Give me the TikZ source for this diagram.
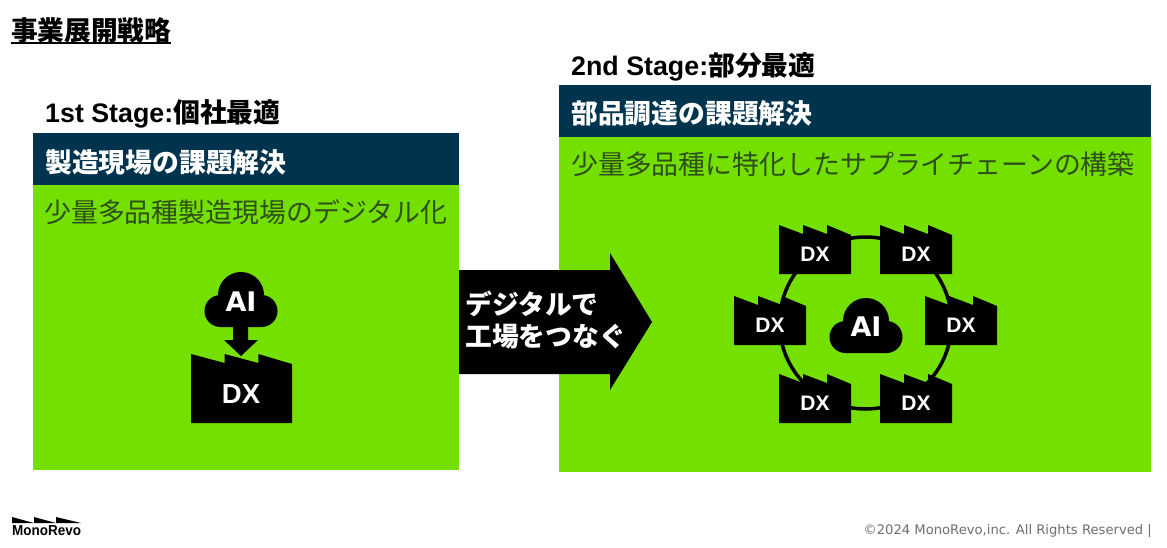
\documentclass[tikz,border=0pt]{standalone}
\usepackage{fontspec}
\setmainfont{Liberation Sans}
\newfontfamily\cjk{Noto Sans CJK JP}
\newfontfamily\footfont{DejaVu Sans}

\definecolor{leaf}{HTML}{74E000}
\definecolor{navy}{HTML}{00344E}
\definecolor{subtext}{HTML}{2F4F1A}
\definecolor{foot}{HTML}{6E6E6E}

\newcommand{\fs}[1]{\fontsize{#1}{#1}\selectfont}

\tikzset{
  stagetext/.style={anchor=west, inner sep=0pt, font=\fs{26.8}\bfseries\cjk},
  headtext/.style={anchor=west, inner sep=0pt, text=white, font=\fs{26.8}\bfseries\cjk},
  subtitle/.style={anchor=west, inner sep=0pt, text=subtext, font=\fs{26.9}\cjk},
  aitext/.style={inner sep=0pt, text=white, font=\fs{27}\bfseries\footfont},
  marktext/.style={inner sep=0pt, text=white, font=\fs{27.5}\bfseries},
  smalltext/.style={inner sep=0pt, text=white, font=\fs{21}\bfseries}
}

% factory: left, peak y, width, height, tooth drop
\newcommand{\factory}[5]{
\fill (#1, #2) -- ++(#3/3, #5*0.9) -- ++(0, -#5*0.9)
  -- ++(#3/3, #5*0.9) -- ++(0, -#5*0.9)
  -- ++(#3/3, #5) -- ++(0, #4-#5) -- ++(-#3, 0) -- cycle;
}

% cloud: centre x, bottom y
\newcommand{\cloud}[2]{
\fill[shift={(#1, #2)}] (-20.5, -16) circle (16) (20.5, -16) circle (16) (0, -32) circle (23)
 (-20.5, 0) rectangle (20.5, -32);
}

\begin{document}
\begin{tikzpicture}[x=1pt, y=-1pt]

\useasboundingbox (0, 0) rectangle (1167, 547);
\fill[white] (0, 0) rectangle (1167, 547);

\node[anchor=west, inner sep=0pt, font=\fs{26.7}\bfseries\cjk] (title) at (11, 30) {事業展開戦略};
\draw[line width=2pt] (11, 43) -- (171, 43);

%Draw Panels
\fill[leaf] (33, 133) rectangle (459, 470);
\fill[navy] (33, 133) rectangle (459, 185);
\fill[leaf] (559, 85) rectangle (1151, 472);
\fill[navy] (559, 85) rectangle (1151, 137);

\node[stagetext] (stageone) at (45, 114) {{\rmfamily 1st Stage:}個社最適};
\node[stagetext] (stagetwo) at (571, 67) {{\rmfamily 2nd Stage:}部分最適};
\node[headtext] (headone) at (45, 162) {製造現場の課題解決};
\node[headtext] (headtwo) at (571, 113) {部品調達の課題解決};
\node[subtitle] (subone) at (44, 212) {少量多品種製造現場のデジタル化};
\node[subtitle] (subtwo) at (571, 164) {少量多品種に特化したサプライチェーンの構築};

%Draw Big Arrow
\fill (459, 270) -- (610, 270) -- (610, 253) -- (652, 322) -- (610, 390) -- (610, 374) -- (459, 374) -- cycle;
\node[headtext] (linkone) at (465, 304) {デジタルで};
\node[headtext] (linktwo) at (465, 337) {工場をつなぐ};

%Draw Left Side
\cloud{241}{327}
\fill (233, 326) -- (248, 326) -- (248, 340) -- (258, 340) -- (241, 356) -- (224, 340) -- (233, 340) -- cycle;
\factory{191}{354}{101}{69}{10}
\node[aitext] (aione) at (241, 302) {AI};
\node[marktext] (dxone) at (241, 394) {DX};

%Draw Right Side
\draw[line width=3.5pt] (865.5, 323) circle (86);
\cloud{866}{353}
\node[aitext] (aitwo) at (866, 327) {AI};

\foreach \x/\y/\name in {779/225/a, 880/225/b, 734/296/c, 925/296/d, 779/374/e, 880/374/f} {
\factory{\x}{\y}{72}{49}{10}
\node[smalltext] (dx\name) at (\x+36, \y+29) {DX};
}

%Draw Footer
\fill (12, 517) -- (34, 523) -- (12, 523) -- cycle;
\fill (34, 517) -- (56, 523) -- (34, 523) -- cycle;
\fill (56, 517) -- (81, 523) -- (56, 523) -- cycle;
\node[anchor=west, inner sep=0pt, xscale=0.93, transform shape, font=\fs{14.5}\bfseries] (logo) at (12, 531) {MonoRevo};
\node[anchor=east, inner sep=0pt, text=foot, font=\fs{13.15}\footfont] (copy) at (1152, 531) {©2024 MonoRevo,inc. All Rights Reserved |};

\end{tikzpicture}
\end{document}
